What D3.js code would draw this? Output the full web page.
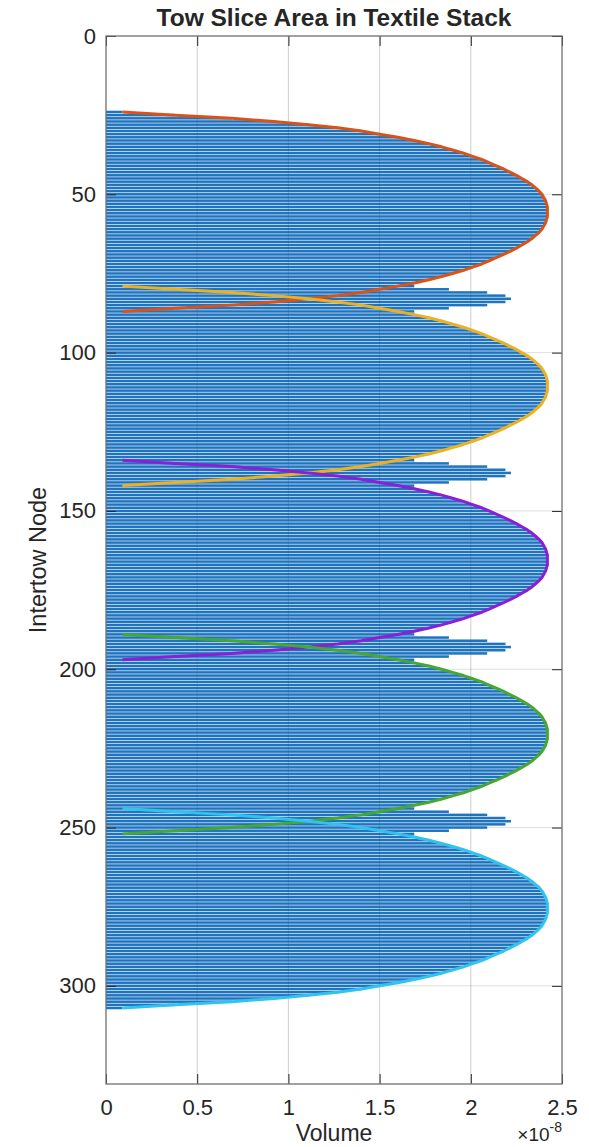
<!DOCTYPE html>
<html>
<head>
<meta charset="utf-8">
<script src="https://cdn.jsdelivr.net/npm/d3@7"></script>
<style>
  body { margin: 0; background: #fff; }
  svg text { font-family: "Liberation Sans", Arial, Helvetica, sans-serif; fill: #262626; }
</style>
</head>
<body>
<svg id="chart" width="589" height="1147"></svg>
<script>
// Slice area (x 1e-8) of one tow along its 64 intertow nodes
const towProfile = [
  0.09, 0.38, 0.69, 0.92, 1.11, 1.27, 1.40, 1.50, 1.60, 1.69, 1.77, 1.84, 1.90, 1.96, 2.01, 2.06,
  2.10, 2.14, 2.18, 2.215, 2.25, 2.28, 2.31, 2.335, 2.355, 2.375, 2.39, 2.40, 2.41, 2.415, 2.42, 2.42,
  2.42, 2.42, 2.415, 2.41, 2.40, 2.39, 2.375, 2.355, 2.335, 2.31, 2.28, 2.25, 2.215, 2.18, 2.14, 2.10,
  2.06, 2.01, 1.96, 1.90, 1.84, 1.77, 1.69, 1.60, 1.50, 1.40, 1.27, 1.11, 0.92, 0.69, 0.38, 0.09
];
// First intertow node of each tow in the stack
const towStartNode = [24, 79, 134, 189, 244];
const towColors = ["#D95319", "#EDB120", "#8A1FD6", "#46A832", "#2FC3F0"];

const xTicks = [0, 0.5, 1, 1.5, 2, 2.5];
const yTicks = [0, 50, 100, 150, 200, 250, 300];
const xDomain = [0, 2.5];
const yDomain = [0, 331];

const svg = d3.select("#chart");
const plotL = 106, plotR = 562, plotT = 36, plotB = 1084;

const x = d3.scaleLinear().domain(xDomain).range([plotL, plotR]);
const y = d3.scaleLinear().domain(yDomain).range([plotT, plotB]);

// Each tow as a list of {node, v}
const tows = towStartNode.map((s, i) => ({
  color: towColors[i],
  pts: towProfile.map((v, k) => ({ node: s + k, v }))
}));

// Total volume at every node: sum of the tows that pass through it
const totals = d3.rollups(
  tows.flatMap(t => t.pts),
  g => d3.sum(g, d => d.v),
  d => d.node
).sort((a, b) => a[0] - b[0]);

// grid
const grid = svg.append("g");
grid.selectAll("line.gx").data(xTicks.slice(1, -1)).join("line").attr("class", "gx")
  .attr("x1", d => x(d)).attr("x2", d => x(d))
  .attr("y1", plotT).attr("y2", plotB)
  .attr("stroke", "#262626").attr("stroke-opacity", 0.15).attr("stroke-width", 1);
grid.selectAll("line.gy").data(yTicks.slice(1)).join("line").attr("class", "gy")
  .attr("y1", d => y(d)).attr("y2", d => y(d))
  .attr("x1", plotL).attr("x2", plotR)
  .attr("stroke", "#262626").attr("stroke-opacity", 0.15).attr("stroke-width", 1);

// bars
const barHalf = 0.4;
svg.append("g").selectAll("rect").data(totals).join("rect")
  .attr("x", x(0))
  .attr("y", d => y(d[0] - barHalf))
  .attr("width", d => x(d[1]) - x(0))
  .attr("height", d => y(d[0] + barHalf) - y(d[0] - barHalf))
  .attr("fill", "#1f74c0");

// faint grid over bars
svg.append("g").selectAll("line").data(xTicks.slice(1, -1)).join("line")
  .attr("x1", d => x(d)).attr("x2", d => x(d))
  .attr("y1", plotT).attr("y2", plotB)
  .attr("stroke", "#262626").attr("stroke-opacity", 0.08);

// tow curves
const line = d3.line().x(d => x(d.v)).y(d => y(d.node));
svg.append("g").selectAll("path").data(tows).join("path")
  .attr("d", d => line(d.pts))
  .attr("fill", "none")
  .attr("stroke", d => d.color)
  .attr("stroke-width", 3)
  .attr("stroke-linejoin", "round");

// axes with inward ticks
const tickFont = "22px";
const axL = svg.append("g").attr("transform", `translate(${plotL},0)`)
  .call(d3.axisLeft(y).tickValues(yTicks).tickSize(-10).tickPadding(10).tickFormat(d3.format("d")));
const axR = svg.append("g").attr("transform", `translate(${plotR},0)`)
  .call(d3.axisRight(y).tickValues(yTicks).tickSize(-10).tickFormat(""));
const axB = svg.append("g").attr("transform", `translate(0,${plotB})`)
  .call(d3.axisBottom(x).tickValues(xTicks).tickSize(-10).tickPadding(15).tickFormat(d3.format("~g")));
const axT = svg.append("g").attr("transform", `translate(0,${plotT})`)
  .call(d3.axisTop(x).tickValues(xTicks).tickSize(-10).tickFormat(""));
[axL, axR, axB, axT].forEach(a => {
  a.select(".domain").remove();
  a.selectAll(".tick line").attr("stroke", "#262626").attr("stroke-width", 1);
  a.selectAll(".tick text").style("font-size", tickFont).attr("fill", "#262626");
});

// box
svg.append("rect")
  .attr("x", plotL).attr("y", plotT)
  .attr("width", plotR - plotL).attr("height", plotB - plotT)
  .attr("fill", "none").attr("stroke", "#707070").attr("stroke-width", 1.3);

// title & labels
svg.append("text")
  .attr("x", (plotL + plotR) / 2).attr("y", 26)
  .attr("text-anchor", "middle")
  .style("font-size", "24.5px").style("font-weight", "bold")
  .text("Tow Slice Area in Textile Stack");

svg.append("text")
  .attr("transform", `translate(46,${(plotT + plotB) / 2}) rotate(-90)`)
  .attr("text-anchor", "middle")
  .style("font-size", "23.5px")
  .text("Intertow Node");

svg.append("text")
  .attr("x", (plotL + plotR) / 2).attr("y", 1141)
  .attr("text-anchor", "middle")
  .style("font-size", "23px")
  .text("Volume");

const ex = svg.append("text")
  .attr("x", plotR).attr("y", 1141)
  .attr("text-anchor", "end")
  .style("font-size", "19px");
ex.append("tspan").text("×10");
ex.append("tspan").attr("dy", -9).style("font-size", "14px").text("-8");
</script>
</body>
</html>
